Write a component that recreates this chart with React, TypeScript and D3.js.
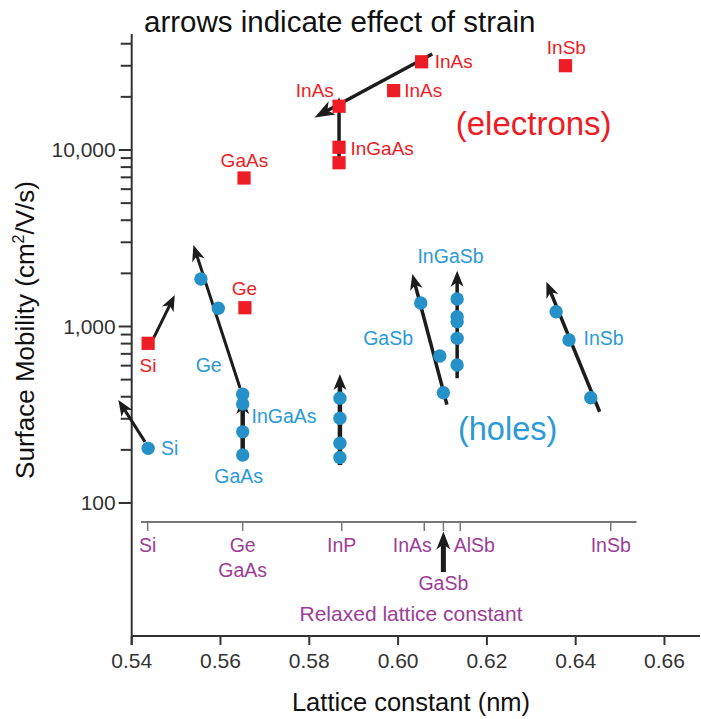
import React from 'react';
import * as d3 from 'd3';

const W = 701;
const H = 719;

// Axis ticks
const xTickValues = [0.54, 0.56, 0.58, 0.6, 0.62, 0.64, 0.66];
const yMajorTicks = [100, 1000, 10000];
const yMajorLabels = ['100', '1,000', '10,000'];
const yMinorTicks = [200, 300, 400, 500, 600, 700, 800, 900, 2000, 3000, 4000, 5000, 6000, 7000, 8000, 9000, 20000, 30000, 40000];

// Electron mobilities (red squares): lattice constant, mobility
const electronX = [0.6053, 0.599, 0.5867, 0.5867, 0.5867, 0.5653, 0.6377, 0.5655, 0.5437];
const electronY = [31600, 21700, 17700, 10360, 8470, 6940, 30030, 1278, 803];

// Hole mobilities (blue circles)
const holeX = [0.5437, 0.5556, 0.5595, 0.565, 0.565, 0.565, 0.565, 0.5869, 0.5869, 0.5869, 0.5869, 0.6051, 0.6094, 0.6102, 0.6133, 0.6133, 0.6133, 0.6133, 0.6133, 0.6356, 0.6385, 0.6434];
const holeY = [204, 1858, 1268, 413, 364, 253, 187, 392, 302, 218, 181, 1359, 680, 421, 1432, 1137, 1065, 857, 605, 1213, 838, 395];

// Strain arrows: [x1, y1, x2(tip), y2(tip), strokeWidth]
const strainArrows: [number, number, number, number, number][] = [
  [0.6077, 35000, 0.5812, 15300, 3.5],
  [0.5867, 7880, 0.5867, 19900, 3.5],
  [0.5449, 857, 0.5497, 1508, 3],
  [0.543, 222, 0.537, 383, 3],
  [0.5644, 448, 0.5539, 2896, 3],
  [0.565, 175, 0.565, 394, 4.5],
  [0.5869, 164, 0.5869, 538, 4.5],
  [0.611, 361, 0.6032, 1984, 3.5],
  [0.6133, 509, 0.6133, 2070, 3.5],
  [0.6454, 329, 0.6334, 1794, 3.5],
];

// Labels: text, x, y (baseline), anchor
const electronLabels: [string, number, number, string][] = [
  ['InAs', 0.60825, 29030, 'start'],
  ['InAs', 0.60139, 20050, 'start'],
  ['InAs', 0.58125, 19880, 'middle'],
  ['InGaAs', 0.58928, 9370, 'start'],
  ['GaAs', 0.56538, 8040, 'middle'],
  ['InSb', 0.63791, 34850, 'middle'],
  ['Ge', 0.56538, 1508, 'middle'],
  ['Si', 0.54367, 555, 'middle'],
];
const holeLabels: [string, number, number, string][] = [
  ['Si', 0.54659, 187, 'start'],
  ['Ge', 0.55733, 550, 'middle'],
  ['InGaAs', 0.567, 283, 'start'],
  ['GaAs', 0.56408, 129, 'middle'],
  ['GaSb', 0.60337, 786, 'end'],
  ['InGaSb', 0.61181, 2281, 'middle'],
  ['InSb', 0.64178, 786, 'start'],
];

// Relaxed lattice constants (inner axis)
const relaxedValues = [0.5436, 0.565, 0.5873, 0.6059, 0.6102, 0.614, 0.6479];
const relaxedLabels = ['Si', 'Ge\nGaAs', 'InP', 'InAs', '', 'AlSb', 'InSb'];
const relaxedRange = [0.5421, 0.6537];

const RED = '#ee1c25';
const BLUE_M = '#2690c8';
const BLUE_T = '#2b9ad6';
const PURPLE = '#9c3d97';
const AX = '#333333';
const ARROW = '#1c1c1c';

function arrowGeom(x1: number, y1: number, x2: number, y2: number, len: number, wid: number) {
  const dx = x2 - x1, dy = y2 - y1;
  const L = Math.hypot(dx, dy);
  const ux = dx / L, uy = dy / L;
  const nx = -uy, ny = ux;
  const bx = x2 - ux * len, by = y2 - uy * len;
  const mx = x2 - ux * len * 0.72, my = y2 - uy * len * 0.72;
  const p = d3.path();
  p.moveTo(x2, y2);
  p.lineTo(bx + (nx * wid) / 2, by + (ny * wid) / 2);
  p.lineTo(mx, my);
  p.lineTo(bx - (nx * wid) / 2, by - (ny * wid) / 2);
  p.closePath();
  return { head: p.toString(), lx: x2 - ux * len * 0.6, ly: y2 - uy * len * 0.6 };
}

export default function App() {
  const x = d3.scaleLinear().domain([0.54, 0.668]).range([131.7, 700]);
  const y = d3.scaleLog().domain([17.64, 45410]).range([636, 34]);
  const axisY = 636;
  const axisX = x(0.54);
  const relaxedY = 522;

  const gasbX = x(relaxedValues[4]);
  const gasbArrow = arrowGeom(gasbX, 572, gasbX, 531.5, 18, 14);

  return (
    <svg
      width={W}
      height={H}
      style={{ position: 'absolute', left: 0, top: 0, background: '#fff' }}
      fontFamily="'Liberation Sans', Arial, Helvetica, sans-serif"
    >
      {/* Title */}
      <text x={144} y={32} fontSize={29.5} fill="#111">arrows indicate effect of strain</text>

      {/* Y axis */}
      <line x1={axisX} x2={axisX} y1={34} y2={645} stroke={AX} strokeWidth={2} />
      {yMajorTicks.map((v, i) => (
        <g key={'ym' + v}>
          <line x1={axisX - 13} x2={axisX} y1={y(v)} y2={y(v)} stroke={AX} strokeWidth={2} />
          <text x={axisX - 16} y={y(v)} dy="0.35em" textAnchor="end" fontSize={21} fill={AX}>{yMajorLabels[i]}</text>
        </g>
      ))}
      {yMinorTicks.map((v) => (
        <line key={'yn' + v} x1={axisX - 11} x2={axisX} y1={y(v)} y2={y(v)} stroke={AX} strokeWidth={2} />
      ))}
      <text transform={`translate(33.5,330) rotate(-90)`} textAnchor="middle" fontSize={26} fill="#111">
        Surface Mobility (cm<tspan fontSize={16} dy={-10}>2</tspan><tspan dy={10}>/V/s)</tspan>
      </text>

      {/* X axis */}
      <line x1={axisX} x2={700} y1={axisY} y2={axisY} stroke={AX} strokeWidth={2} />
      {xTickValues.map((v) => (
        <g key={'xt' + v}>
          <line x1={x(v)} x2={x(v)} y1={axisY} y2={axisY + 9} stroke={AX} strokeWidth={2} />
          <text x={x(v)} y={668} textAnchor="middle" fontSize={21} fill={AX}>{d3.format('.2f')(v)}</text>
        </g>
      ))}
      <text x={411} y={711} textAnchor="middle" fontSize={25.5} fill="#111">Lattice constant (nm)</text>

      {/* Relaxed lattice constant axis */}
      <line x1={x(relaxedRange[0])} x2={x(relaxedRange[1])} y1={relaxedY} y2={relaxedY} stroke="#777" strokeWidth={2} />
      {relaxedValues.map((v, i) => {
        const lab = relaxedLabels[i];
        let anchor = 'middle';
        let dx = 0;
        if (lab === 'InAs') { anchor = 'end'; dx = 7.5; }
        if (lab === 'AlSb') { anchor = 'start'; dx = -6.5; }
        const lines = lab ? lab.split('\n') : [];
        return (
          <g key={'rl' + i}>
            <line x1={x(v)} x2={x(v)} y1={relaxedY} y2={relaxedY + 9} stroke="#777" strokeWidth={1.5} />
            {lines.map((t, j) => (
              <text key={j} x={x(v) + dx} y={552 + j * 24.5} textAnchor={anchor} fontSize={19.5} fill={PURPLE}>{t}</text>
            ))}
          </g>
        );
      })}
      <line x1={gasbX} x2={gasbX} y1={572} y2={gasbArrow.ly} stroke={ARROW} strokeWidth={5} />
      <path d={gasbArrow.head} fill={ARROW} />
      <text x={gasbX} y={590} textAnchor="middle" fontSize={19.5} fill={PURPLE}>GaSb</text>
      <text x={411} y={621} textAnchor="middle" fontSize={21} fill={PURPLE}>Relaxed lattice constant</text>

      {/* Strain arrows */}
      {strainArrows.map((a, i) => {
        const [x1v, y1v, x2v, y2v, sw] = a;
        const x1 = x(x1v), y1 = y(y1v), x2 = x(x2v), y2 = y(y2v);
        const big = i === 0;
        const g = arrowGeom(x1, y1, x2, y2, big ? 20 : 16, big ? 15 : 13);
        return (
          <g key={'ar' + i}>
            <line x1={x1} y1={y1} x2={g.lx} y2={g.ly} stroke={ARROW} strokeWidth={sw} />
            <path d={g.head} fill={ARROW} />
          </g>
        );
      })}

      {/* Electron points */}
      {electronX.map((v, i) => (
        <rect key={'e' + i} x={x(v) - 6.6} y={y(electronY[i]) - 6.6} width={13.2} height={13.2} fill={RED} />
      ))}
      {/* Hole points */}
      {holeX.map((v, i) => (
        <circle key={'h' + i} cx={x(v)} cy={y(holeY[i])} r={6.7} fill={BLUE_M} />
      ))}

      {/* Labels */}
      {electronLabels.map(([t, xv, yv, anc], i) => (
        <text key={'el' + i} x={x(xv)} y={y(yv)} textAnchor={anc} fontSize={19} fill={RED}>{t}</text>
      ))}
      {holeLabels.map(([t, xv, yv, anc], i) => (
        <text key={'hl' + i} x={x(xv)} y={y(yv)} textAnchor={anc} fontSize={19.5} fill={BLUE_T}>{t}</text>
      ))}
      <text x={x(0.61298)} y={y(12160)} fontSize={33} fill={RED}>(electrons)</text>
      <text x={x(0.61349)} y={y(228)} fontSize={32.5} fill={BLUE_T}>(holes)</text>
    </svg>
  );
}
